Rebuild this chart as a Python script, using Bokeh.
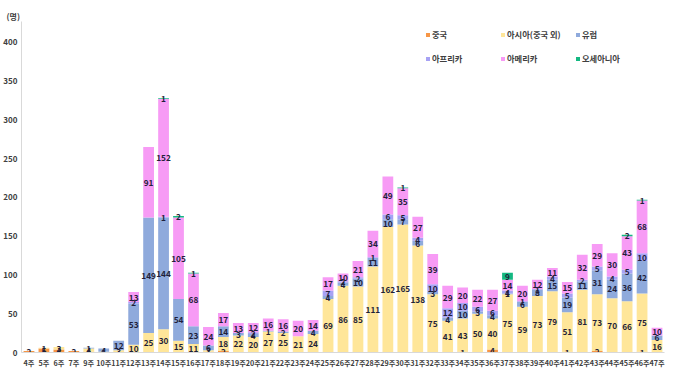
import numpy as np
from bokeh.plotting import figure
from bokeh.models import (ColumnDataSource, FactorRange, Range1d, FixedTicker,
                          Legend, LegendItem, Title)
from bokeh.core.properties import value
from bokeh.embed import file_html
from bokeh.resources import INLINE

weeks = ["4주", "5주", "6주", "7주", "9주", "10주", "11주", "12주", "13주", "14주",
         "15주", "16주", "17주", "18주", "19주", "20주", "21주", "22주", "23주", "24주",
         "25주", "26주", "27주", "28주", "29주", "30주", "31주", "32주", "33주", "34주",
         "35주", "36주", "37주", "38주", "39주", "40주", "41주", "42주", "43주", "44주",
         "45주", "46주", "47주"]

china = [2, 5, 4, 2, 1, 0, 0, 0, 0, 0,
         0, 0, 1, 2, 0, 0, 0, 0, 0, 0,
         0, 0, 0, 0, 0, 0, 0, 0, 0, 1,
         0, 4, 0, 0, 0, 0, 1, 0, 2, 0,
         0, 1, 0]
asia = [0, 1, 3, 0, 4, 1, 3, 10, 25, 30,
        15, 11, 2, 18, 22, 20, 27, 25, 21, 24,
        69, 86, 85, 111, 162, 165, 138, 75, 41, 43,
        50, 40, 75, 59, 73, 79, 51, 81, 73, 70,
        66, 75, 16]
europe = [0, 0, 0, 0, 1, 4, 12, 53, 149, 144,
          54, 23, 6, 14, 3, 4, 1, 2, 0, 4,
          4, 4, 10, 11, 10, 7, 6, 3, 4, 10,
          3, 4, 1, 6, 8, 15, 19, 11, 31, 24,
          36, 42, 6]
africa = [0, 0, 0, 0, 0, 0, 0, 2, 0, 1,
          0, 0, 0, 0, 0, 2, 0, 0, 0, 0,
          7, 2, 2, 1, 6, 5, 4, 10, 12, 10,
          6, 6, 4, 1, 1, 4, 5, 2, 5, 4,
          5, 10, 0]
america = [0, 0, 0, 0, 0, 0, 0, 13, 91, 152,
           105, 68, 24, 17, 13, 12, 16, 16, 20, 14,
           17, 10, 21, 34, 49, 35, 27, 39, 29, 20,
           22, 27, 14, 20, 12, 11, 15, 32, 29, 30,
           43, 68, 10]
oceania = [0, 0, 0, 0, 0, 0, 0, 0, 0, 1,
           2, 1, 0, 0, 0, 0, 0, 0, 0, 0,
           0, 0, 0, 0, 0, 1, 0, 0, 0, 0,
           0, 0, 9, 0, 0, 0, 0, 0, 0, 0,
           2, 1, 0]

series_keys = ["china", "asia", "europe", "africa", "america", "oceania"]
series_names = ["중국", "아시아(중국 외)", "유럽", "아프리카", "아메리카", "오세아니아"]
colors = ["#F79646", "#FFE699", "#8FAADC", "#A7A2F4", "#F79BF5", "#14B882"]
y_ticks = [0, 50, 100, 150, 200, 250, 300, 350, 400]

FONT = "Noto Sans CJK KR"

data = dict(week=weeks, china=china, asia=asia, europe=europe,
            africa=africa, america=america, oceania=oceania)
source = ColumnDataSource(data)

p = figure(x_range=FactorRange(*weeks, range_padding=0), y_range=Range1d(0, 427),
           frame_width=643, frame_height=331, output_backend="svg", toolbar_location=None,
           min_border_left=20, min_border_right=1, min_border_top=21, min_border_bottom=8)

renderers = p.vbar_stack(series_keys, x="week", width=0.72, color=colors, source=source,
                         line_color=None)

# value labels at segment centres
arr = np.array([china, asia, europe, africa, america, oceania], dtype=float)
cum = np.cumsum(arr, axis=0)
lx, ly, lt = [], [], []
for s in range(arr.shape[0]):
    for i, w in enumerate(weeks):
        v = arr[s, i]
        if v > 0:
            lx.append(w)
            ly.append(cum[s, i] - v / 2)
            lt.append(str(int(v)))
lsrc = ColumnDataSource(dict(x=lx, y=ly, t=lt))
p.text(x="x", y="y", text="t", source=lsrc, text_align="center", text_baseline="middle",
       text_font=value(FONT), text_font_size="6.2pt", text_font_style="bold",
       text_color="#1f1f3a")

# axes
p.xgrid.visible = False
p.ygrid.visible = False
p.outline_line_color = None
p.yaxis.ticker = FixedTicker(ticks=y_ticks)
for ax in (p.xaxis, p.yaxis):
    ax.axis_line_color = "#D9D9D9"
    ax.major_tick_line_color = None
    ax.minor_tick_line_color = None
    ax.major_tick_out = 0
    ax.major_tick_in = 0
    ax.minor_tick_out = 0
    ax.major_label_text_font = FONT
    ax.major_label_text_font_style = "bold"
    ax.major_label_text_color = "#404040"
p.yaxis.major_label_text_font_size = "6pt"
p.xaxis.major_label_text_font_size = "5.4pt"
p.yaxis.major_label_standoff = 4
p.xaxis.major_label_standoff = 5

p.add_layout(Title(text="(명)", align="left", offset=-15, standoff=0,
                   text_font=FONT, text_font_size="6pt", text_font_style="bold",
                   text_color="#404040"), "above")

order = [0, 3, 1, 4, 2, 5]
lg = Legend(items=[LegendItem(label=series_names[i], renderers=[renderers[i]]) for i in order])
lg.location = (404, 284)
lg.ncols = 3
lg.padding = 0
lg.margin = 0
lg.spacing = 4
lg.background_fill_alpha = 0
lg.border_line_alpha = 0
lg.glyph_width = 5
lg.glyph_height = 5
lg.label_standoff = 2
lg.label_width = 64
lg.label_height = 20
lg.label_text_font = FONT
lg.label_text_font_size = "6.2pt"
lg.label_text_font_style = "bold"
lg.label_text_color = "#404040"
p.add_layout(lg, "center")

open("out.html", "w").write(file_html(p, INLINE))
